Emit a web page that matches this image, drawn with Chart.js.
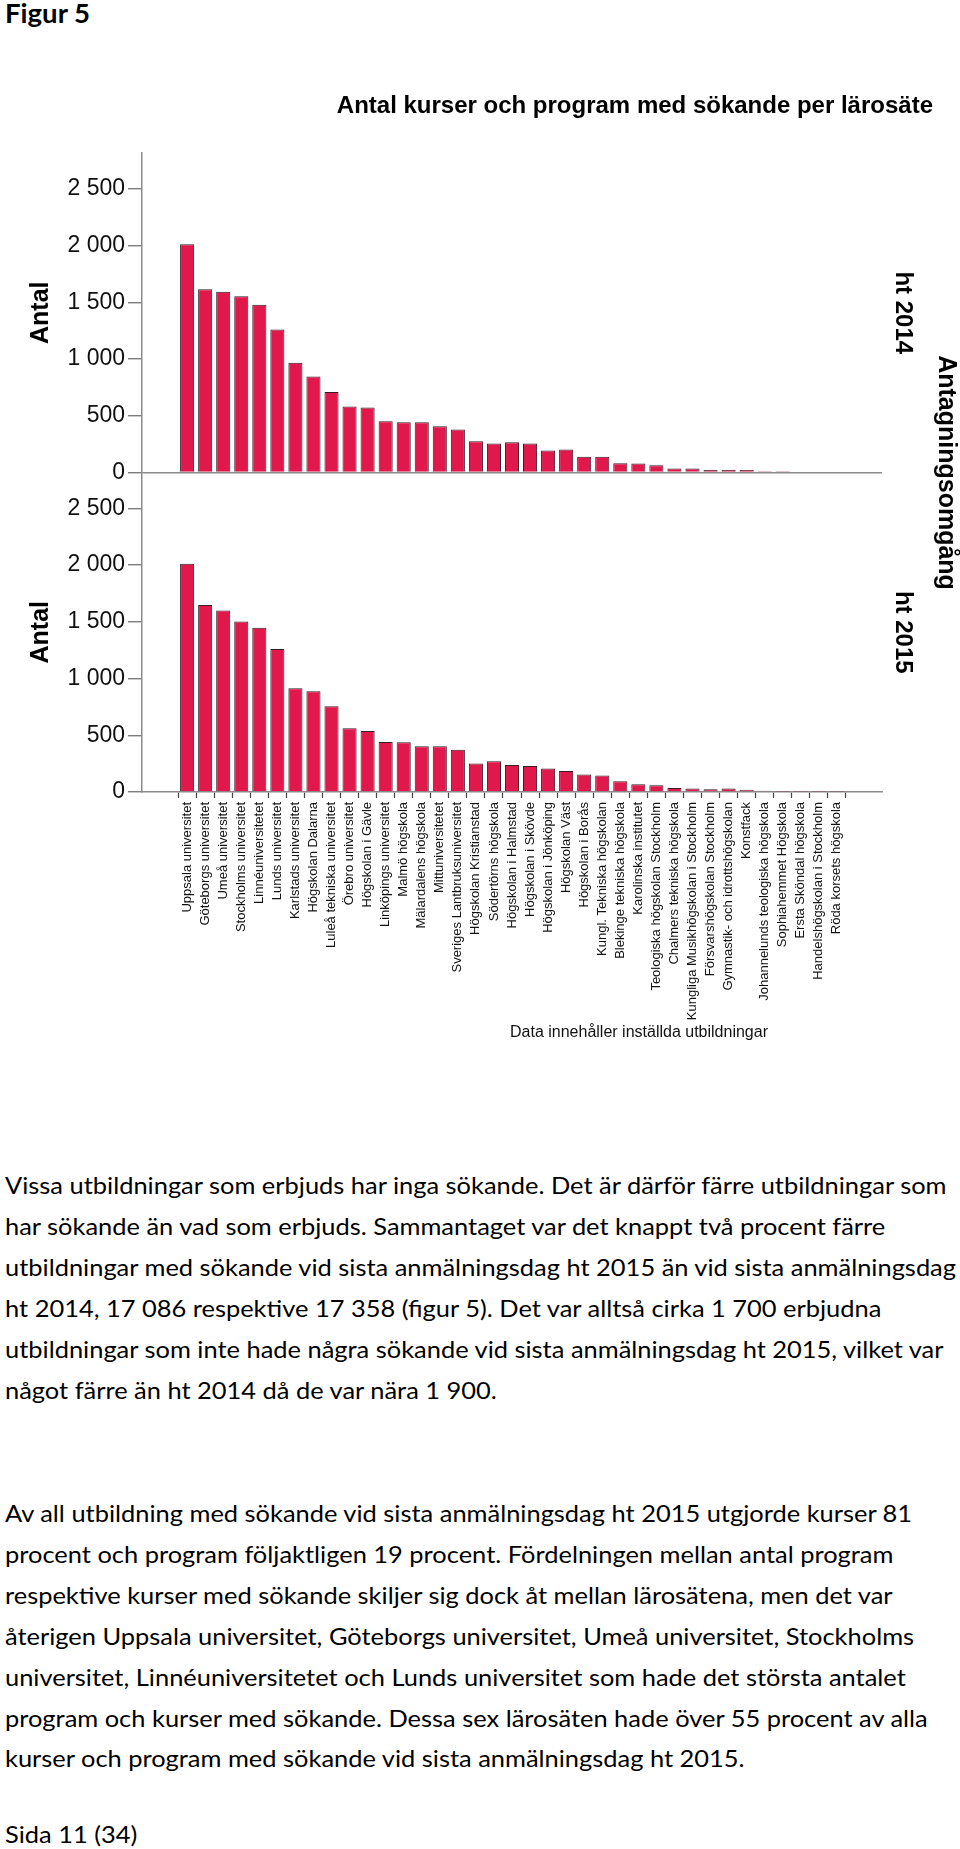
<!DOCTYPE html>
<html lang="sv">
<head>
<meta charset="utf-8">
<script src="https://cdn.jsdelivr.net/npm/chart.js@4.4.1/dist/chart.umd.min.js"></script>
<style>
html,body{margin:0;padding:0;background:#fff;}
body{width:960px;height:1849px;position:relative;overflow:hidden;font-family:Lato,'Open Sans',sans-serif;color:#000;}
#fig{position:absolute;left:5px;top:-1px;font-weight:bold;font-size:26px;line-height:28px;transform-origin:0 0;white-space:nowrap;}
#c{position:absolute;left:0;top:0;}
.para{position:absolute;left:5px;font-size:24px;line-height:40.9px;transform-origin:0 0;white-space:nowrap;}
.para div{width:max-content;}
#p1{top:1165px;}
#p2{top:1493px;}
#foot{position:absolute;left:5px;top:1814px;font-size:24px;line-height:40px;transform-origin:0 0;white-space:nowrap;}
</style>
</head>
<body>
<div id="fig">Figur 5</div>
<canvas id="c" width="960" height="1080"></canvas>
<div class="para" id="p1">
<div>Vissa utbildningar som erbjuds har inga sökande. Det är därför färre utbildningar som</div>
<div>har sökande än vad som erbjuds. Sammantaget var det knappt två procent färre</div>
<div>utbildningar med sökande vid sista anmälningsdag ht 2015 än vid sista anmälningsdag</div>
<div>ht 2014, 17 086 respektive 17 358 (figur 5). Det var alltså cirka 1 700 erbjudna</div>
<div>utbildningar som inte hade några sökande vid sista anmälningsdag ht 2015, vilket var</div>
<div>något färre än ht 2014 då de var nära 1 900.</div>
</div>
<div class="para" id="p2">
<div>Av all utbildning med sökande vid sista anmälningsdag ht 2015 utgjorde kurser 81</div>
<div>procent och program följaktligen 19 procent. Fördelningen mellan antal program</div>
<div>respektive kurser med sökande skiljer sig dock åt mellan lärosätena, men det var</div>
<div>återigen Uppsala universitet, Göteborgs universitet, Umeå universitet, Stockholms</div>
<div>universitet, Linnéuniversitetet och Lunds universitet som hade det största antalet</div>
<div>program och kurser med sökande. Dessa sex lärosäten hade över 55 procent av alla</div>
<div>kurser och program med sökande vid sista anmälningsdag ht 2015.</div>
</div>
<div id="foot">Sida 11 (34)</div>
<script>
// ---- data ----
const schools = [
  "Uppsala universitet","Göteborgs universitet","Umeå universitet","Stockholms universitet",
  "Linnéuniversitetet","Lunds universitet","Karlstads universitet","Högskolan Dalarna",
  "Luleå tekniska universitet","Örebro universitet","Högskolan i Gävle","Linköpings universitet",
  "Malmö högskola","Mälardalens högskola","Mittuniversitetet","Sveriges Lantbruksuniversitet",
  "Högskolan Kristianstad","Södertörns högskola","Högskolan i Halmstad","Högskolan i Skövde",
  "Högskolan i Jönköping","Högskolan Väst","Högskolan i Borås","Kungl. Tekniska högskolan",
  "Blekinge tekniska högskola","Karolinska institutet","Teologiska högskolan Stockholm",
  "Chalmers tekniska högskola","Kungliga Musikhögskolan i Stockholm","Försvarshögskolan Stockholm",
  "Gymnastik- och idrottshögskolan","Konstfack","Johannelunds teologiska högskola",
  "Sophiahemmet Högskola","Ersta Sköndal högskola","Handelshögskolan i Stockholm","Röda korsets högskola"
];
const ht2014 = [2010,1614,1593,1552,1479,1259,966,845,710,581,572,452,443,443,408,379,276,255,267,255,194,202,138,138,82,79,64,35,35,23,23,23,11,11,6,6,6];
const ht2015 = [2012,1647,1600,1503,1447,1259,914,888,755,561,538,441,438,402,402,373,252,270,238,229,208,185,155,146,94,69,59,36,30,25,31,20,12,3,3,3,3];
const yTickValues = [0,500,1000,1500,2000,2500];
const yTickLabels = ["0","500","1 000","1 500","2 000","2 500"];
const panelLabels = ["ht 2014","ht 2015"];
const chartTitle = "Antal kurser och program med sökande per lärosäte";
const yTitle = "Antal";
const facetTitle = "Antagningsomgång";
const noteText = "Data innehåller inställda utbildningar";

// ---- styles ----
const FONT = "'Liberation Sans', Arial, sans-serif";
const AXIS = "#8c8c8c";
const BAR = "#e0184c";
const EDGE = "#3a1b22";

function yAxis(showZeroLine) {
  return {
    type: "linear", position: "left", stack: "panels", stackWeight: 1, offset: false,
    bounds: "data", min: 0, max: 2815,
    afterBuildTicks: s => { s.ticks = yTickValues.map(v => ({ value: v })); },
    afterFit: s => { s.width = 120; },
    ticks: { callback: (v, i) => yTickLabels[i], font: { family: FONT, size: 23 }, color: "#111", padding: 3 },
    grid: {
      drawOnChartArea: showZeroLine,
      color: c => (showZeroLine && c.tick && c.tick.value === 0) ? AXIS : "rgba(0,0,0,0)",
      lineWidth: 1.5, tickColor: "#666", tickLength: 14, tickWidth: 1.2
    },
    border: { display: true, color: AXIS, width: 1.5 },
    title: { display: true, text: yTitle, color: "#000", font: { family: FONT, size: 25, weight: "bold" }, padding: { top: 4, bottom: 0 } }
  };
}

const textPlugin = {
  id: "texts",
  afterDraw(chart) {
    const { ctx, chartArea: a, scales } = chart;
    ctx.save();
    ctx.fillStyle = "#000";
    ctx.font = `bold 24px ${FONT}`;
    ctx.textAlign = "right";
    ctx.textBaseline = "middle";
    ctx.fillText(chartTitle, 933, 106);
    const rot = (txt, x, y, font) => {
      ctx.save(); ctx.translate(x, y); ctx.rotate(Math.PI / 2);
      ctx.font = font; ctx.textAlign = "center"; ctx.textBaseline = "middle";
      ctx.fillText(txt, 0, 0); ctx.restore();
    };
    ["y2014", "y2015"].forEach((id, k) => {
      const s = scales[id];
      rot(panelLabels[k], a.right + 21, (s.top + s.bottom) / 2, `bold 24px ${FONT}`);
    });
    rot(facetTitle, a.right + 64, (a.top + a.bottom) / 2, `bold 25px ${FONT}`);
    ctx.font = `16px ${FONT}`;
    ctx.textAlign = "center";
    ctx.fillStyle = "#111";
    ctx.fillText(noteText, 639, 1033);
    ctx.restore();
  }
};

new Chart(document.getElementById("c"), {
  type: "bar",
  data: {
    datasets: [
      { label: panelLabels[0], data: ht2014.map((v, i) => ({ x: i, y: v })), xAxisID: "x", yAxisID: "y2014",
        backgroundColor: BAR, borderColor: EDGE, borderWidth: 1, grouped: false, barPercentage: 0.78, categoryPercentage: 1 },
      { label: panelLabels[1], data: ht2015.map((v, i) => ({ x: i, y: v })), xAxisID: "x", yAxisID: "y2015",
        backgroundColor: BAR, borderColor: EDGE, borderWidth: 1, grouped: false, barPercentage: 0.78, categoryPercentage: 1 }
    ]
  },
  options: {
    responsive: false, animation: false, devicePixelRatio: 1,
    layout: { padding: { left: 22, right: 78, top: 153, bottom: 48 } },
    plugins: { legend: { display: false }, tooltip: { enabled: false }, title: { display: false } },
    scales: {
      x: {
        type: "linear", position: "bottom", bounds: "data", offset: false, min: -2.5, max: 38.5,
        afterBuildTicks: s => { s.ticks = schools.map((_, i) => ({ value: i })); },
        afterFit: s => { s.height = 240; },
        ticks: { autoSkip: false, minRotation: 90, maxRotation: 90, callback: (v, i) => schools[i],
                 font: { family: FONT, size: 13 }, color: "#111", padding: 4 },
        grid: { drawOnChartArea: false, drawTicks: true, tickLength: 6, tickColor: "#444", color: "#444", tickWidth: 1.2 },
        border: { display: true, color: AXIS, width: 1.5 }
      },
      // stacked panels: the later-defined axis is laid out on top
      y2015: yAxis(false),
      y2014: yAxis(true)
    }
  },
  plugins: [textPlugin]
});

// fit body text width to the page column
function fitText() {
  let maxW = 0;
  document.querySelectorAll(".para div").forEach(d => { maxW = Math.max(maxW, d.getBoundingClientRect().width / (d.parentNode._s || 1)); });
  const s = 951 / maxW;
  document.querySelectorAll(".para").forEach(p => { p._s = s; p.style.transform = `scaleX(${s})`; });
  document.getElementById("foot").style.transform = `scaleX(${s})`;
  document.getElementById("fig").style.transform = `scaleX(${s})`;
}
fitText();
if (document.fonts && document.fonts.ready) document.fonts.ready.then(fitText);
</script>
</body>
</html>
